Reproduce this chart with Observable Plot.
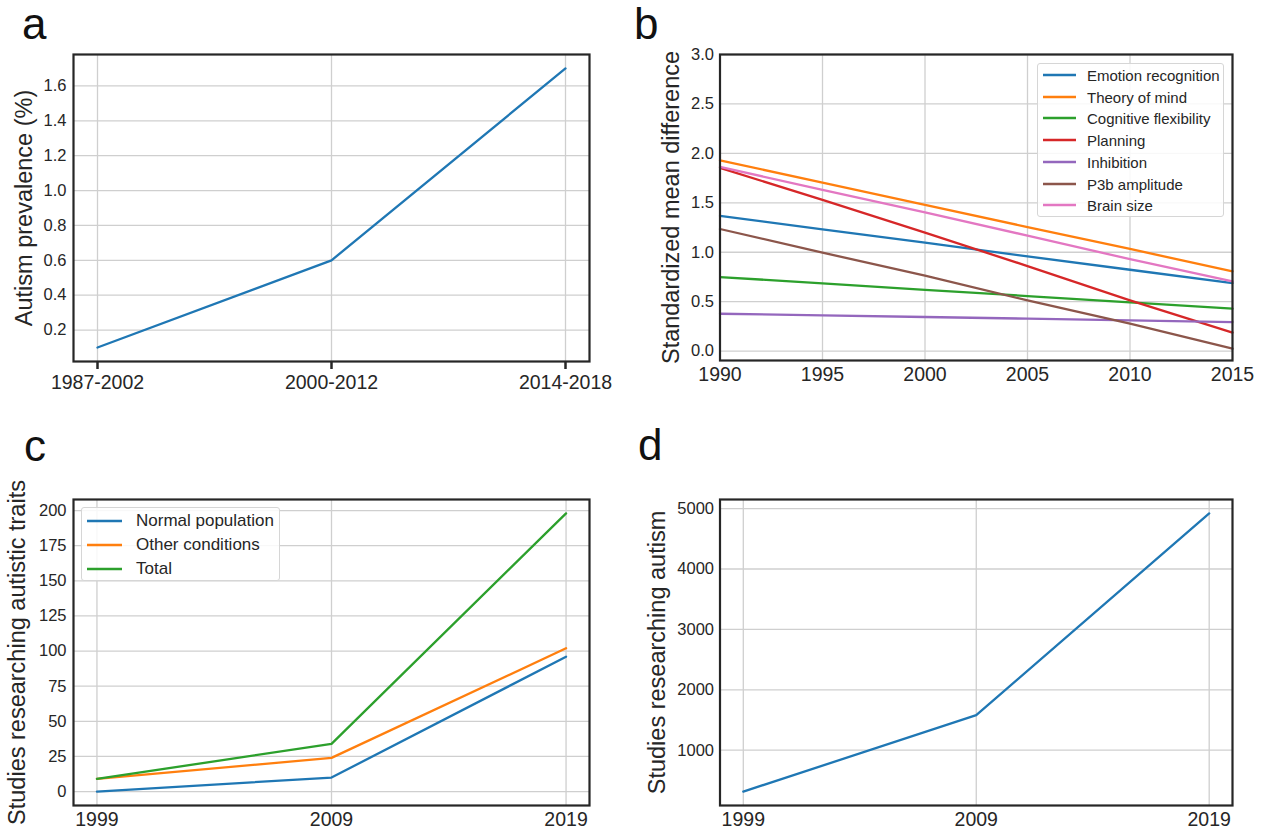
<!DOCTYPE html>
<html><head><meta charset="utf-8">
<script src="https://cdn.jsdelivr.net/npm/d3@7"></script>
<script src="https://cdn.jsdelivr.net/npm/@observablehq/plot@0.6"></script>
<style>
body{margin:0;background:#fff;font-family:"Liberation Sans",Arial,sans-serif;color:#262626}
#root{position:relative;width:1265px;height:830px;overflow:hidden;background:#fff}
.panel{position:absolute}
.panel svg{overflow:visible}
.letter{position:absolute;font-size:44px;line-height:44px;color:#111}
.legend{position:absolute;border:1px solid #d6d6d6;border-radius:3px;background:rgba(255,255,255,0.85);box-sizing:border-box;color:#262626}
.legend .row{position:absolute;left:0;display:flex;align-items:center;white-space:nowrap}
.legend svg{flex:none;display:block}
</style></head><body><div id="root"></div>
<script>
// ---------- data ----------
const periodsA = ["1987-2002", "2000-2012", "2014-2018"];
const prevalenceA = [0.1, 0.6, 1.7];
const yTicksA = [0.2, 0.4, 0.6, 0.8, 1.0, 1.2, 1.4, 1.6];

const yearsB = [1990, 1995, 2000, 2005, 2010, 2015];
const seriesB = ["Emotion recognition", "Theory of mind", "Cognitive flexibility", "Planning", "Inhibition", "P3b amplitude", "Brain size"];
const emotionB = [1.367, 1.232, 1.097, 0.958, 0.823, 0.688];
const theoryB = [1.930, 1.703, 1.478, 1.255, 1.033, 0.807];
const cognitiveB = [0.749, 0.685, 0.620, 0.557, 0.493, 0.429];
const planningB = [1.853, 1.530, 1.198, 0.860, 0.513, 0.186];
const inhibitionB = [0.378, 0.361, 0.345, 0.328, 0.311, 0.294];
const p3bB = [1.235, 0.996, 0.763, 0.513, 0.277, 0.024];
const brainB = [1.863, 1.630, 1.404, 1.168, 0.930, 0.705];
const xTicksB = [1990, 1995, 2000, 2005, 2010, 2015];
const yTicksB = [0.0, 0.5, 1.0, 1.5, 2.0, 2.5, 3.0];

const yearsCD = [1999, 2009, 2019];
const seriesC = ["Normal population", "Other conditions", "Total"];
const normalC = [0, 10, 96];
const otherC = [9, 24, 102];
const totalC = [9, 34, 198];
const yTicksC = [0, 25, 50, 75, 100, 125, 150, 175, 200];

const studiesD = [315, 1580, 4920];
const yTicksD = [1000, 2000, 3000, 4000, 5000];

const colors = ["#1f77b4", "#ff7f0e", "#2ca02c", "#d62728", "#9467bd", "#8c564b", "#e377c2"];

// ---------- helpers ----------
const FONT = '"Liberation Sans", Arial, sans-serif';
const INK = "#262626";
const GRID = {stroke: "#cfcfcf", strokeOpacity: 1, strokeWidth: 1.3};
const LW = 2.3;
const rootEl = document.getElementById("root");
function place(node, left, top) {
  const d = document.createElement("div");
  d.className = "panel";
  d.style.left = left + "px";
  d.style.top = top + "px";
  d.appendChild(node);
  rootEl.appendChild(d);
}
function letter(t, left, top) {
  const d = document.createElement("div");
  d.className = "letter";
  d.textContent = t;
  d.style.left = left + "px";
  d.style.top = top + "px";
  rootEl.appendChild(d);
}
function legend(names, cols, o) {
  const d = document.createElement("div");
  d.className = "legend";
  Object.assign(d.style, {left: o.left + "px", top: o.top + "px", width: o.width + "px", height: o.height + "px", fontSize: o.fontSize + "px"});
  names.forEach((n, i) => {
    const r = document.createElement("div");
    r.className = "row";
    r.style.top = Math.round(o.first + i * o.rowH - 12) + "px";
    r.style.height = "24px";
    const ns = "http://www.w3.org/2000/svg";
    const sv = document.createElementNS(ns, "svg");
    sv.setAttribute("width", o.swLeft + o.swW);
    sv.setAttribute("height", 24);
    const ln = document.createElementNS(ns, "line");
    ln.setAttribute("x1", o.swLeft); ln.setAttribute("x2", o.swLeft + o.swW);
    ln.setAttribute("y1", 12); ln.setAttribute("y2", 12);
    ln.setAttribute("stroke", cols[i]); ln.setAttribute("stroke-width", 2.6);
    sv.appendChild(ln);
    const tx = document.createElement("span");
    tx.style.marginLeft = o.gap + "px";
    tx.textContent = n;
    r.appendChild(sv); r.appendChild(tx);
    d.appendChild(r);
  });
  rootEl.appendChild(d);
}
const style = {fontFamily: FONT, color: INK, background: "transparent", overflow: "visible"};

// ---------- panel a ----------
const dataA = periodsA.map((p, i) => ({period: p, value: prevalenceA[i]}));
place(Plot.plot({
  width: 632, height: 415, marginLeft: 73, marginRight: 43, marginTop: 54, marginBottom: 54,
  style,
  x: {type: "point", domain: periodsA, padding: 0.1},
  y: {domain: [0.02, 1.78]},
  marks: [
    Plot.gridX(periodsA, GRID),
    Plot.gridY(yTicksA, GRID),
    Plot.lineY(dataA, {x: "period", y: "value", stroke: colors[0], strokeWidth: LW}),
    Plot.frame({stroke: INK, strokeWidth: 2.2}),
    Plot.axisX(periodsA, {tickSize: 8, strokeWidth: 2.5, tickPadding: 6, fontSize: 19.5, label: null}),
    Plot.axisY(yTicksA, {tickSize: 0, tickPadding: 7, fontSize: 16.5, tickFormat: d3.format(".1f"), label: null}),
    Plot.axisY([], {tickSize: 0, label: "Autism prevalence (%)", labelAnchor: "center", labelArrow: "none", labelOffset: 58, fontSize: 23.5})
  ]
}), 0, 0);

// ---------- panel b ----------
const valsB = [emotionB, theoryB, cognitiveB, planningB, inhibitionB, p3bB, brainB];
const dataB = seriesB.flatMap((s, k) => yearsB.map((yr, i) => ({series: s, year: yr, value: valsB[k][i]})));
place(Plot.plot({
  width: 633, height: 415, marginLeft: 87.5, marginRight: 33, marginTop: 54, marginBottom: 55,
  style,
  x: {domain: [1990, 2015]},
  y: {domain: [-0.095, 3.0]},
  color: {domain: seriesB, range: colors},
  marks: [
    Plot.gridX(xTicksB, GRID),
    Plot.gridY(yTicksB, GRID),
    Plot.lineY(dataB, {x: "year", y: "value", z: "series", stroke: "series", strokeWidth: LW}),
    Plot.frame({stroke: INK, strokeWidth: 2.2}),
    Plot.axisX(xTicksB, {tickSize: 0, tickPadding: 7, fontSize: 19.5, tickFormat: d => String(d), label: null}),
    Plot.axisY(yTicksB, {tickSize: 0, tickPadding: 6, fontSize: 16.5, tickFormat: d3.format(".1f"), label: null}),
    Plot.axisY([], {tickSize: 0, label: "Standardized mean difference", labelAnchor: "center", labelArrow: "none", labelOffset: 57.5, fontSize: 23.5})
  ]
}), 632, 0);

// ---------- panel c ----------
const valsC = [normalC, otherC, totalC];
const dataC = seriesC.flatMap((s, k) => yearsCD.map((yr, i) => ({series: s, year: yr, value: valsC[k][i]})));
place(Plot.plot({
  width: 632, height: 415, marginLeft: 73, marginRight: 43, marginTop: 84, marginBottom: 25,
  style,
  x: {domain: [1998, 2020]},
  y: {domain: [-9.9, 207.9]},
  color: {domain: seriesC, range: colors.slice(0, 3)},
  marks: [
    Plot.gridX(yearsCD, GRID),
    Plot.gridY(yTicksC, GRID),
    Plot.lineY(dataC, {x: "year", y: "value", z: "series", stroke: "series", strokeWidth: LW}),
    Plot.frame({stroke: INK, strokeWidth: 2.2}),
    Plot.axisX(yearsCD, {tickSize: 0, tickPadding: 7, fontSize: 19.5, tickFormat: d => String(d), label: null}),
    Plot.axisY(yTicksC, {tickSize: 0, tickPadding: 7, fontSize: 16.5, label: null}),
    Plot.axisY([], {tickSize: 0, label: "Studies researching autistic traits", labelAnchor: "center", labelArrow: "none", labelOffset: 65, fontSize: 23.5})
  ]
}), 0, 415);

// ---------- panel d ----------
const dataD = yearsCD.map((yr, i) => ({year: yr, value: studiesD[i]}));
place(Plot.plot({
  width: 633, height: 415, marginLeft: 87.5, marginRight: 33, marginTop: 84, marginBottom: 25,
  style,
  x: {domain: [1998, 2020]},
  y: {domain: [85, 5150]},
  marks: [
    Plot.gridX(yearsCD, GRID),
    Plot.gridY(yTicksD, GRID),
    Plot.lineY(dataD, {x: "year", y: "value", stroke: colors[0], strokeWidth: LW}),
    Plot.frame({stroke: INK, strokeWidth: 2.2}),
    Plot.axisX(yearsCD, {tickSize: 0, tickPadding: 7, fontSize: 19.5, tickFormat: d => String(d), label: null}),
    Plot.axisY(yTicksD, {tickSize: 0, tickPadding: 6, fontSize: 16.5, tickFormat: d => String(d), label: null}),
    Plot.axisY([], {tickSize: 0, label: "Studies researching autism", labelAnchor: "center", labelArrow: "none", labelOffset: 71.5, fontSize: 23.5})
  ]
}), 632, 415);

// ---------- legends & letters ----------
legend(seriesB, colors, {left: 1037, top: 63, width: 187, height: 154, first: 11, rowH: 21.7, swLeft: 5, swW: 33, gap: 11, fontSize: 15});
legend(seriesC, colors, {left: 81, top: 507, width: 199, height: 74, first: 13, rowH: 24, swLeft: 5, swW: 35, gap: 14, fontSize: 17});
letter("a", 22, 2);
letter("b", 634, 2);
letter("c", 24, 424);
letter("d", 638, 423);
</script>
</body></html>
